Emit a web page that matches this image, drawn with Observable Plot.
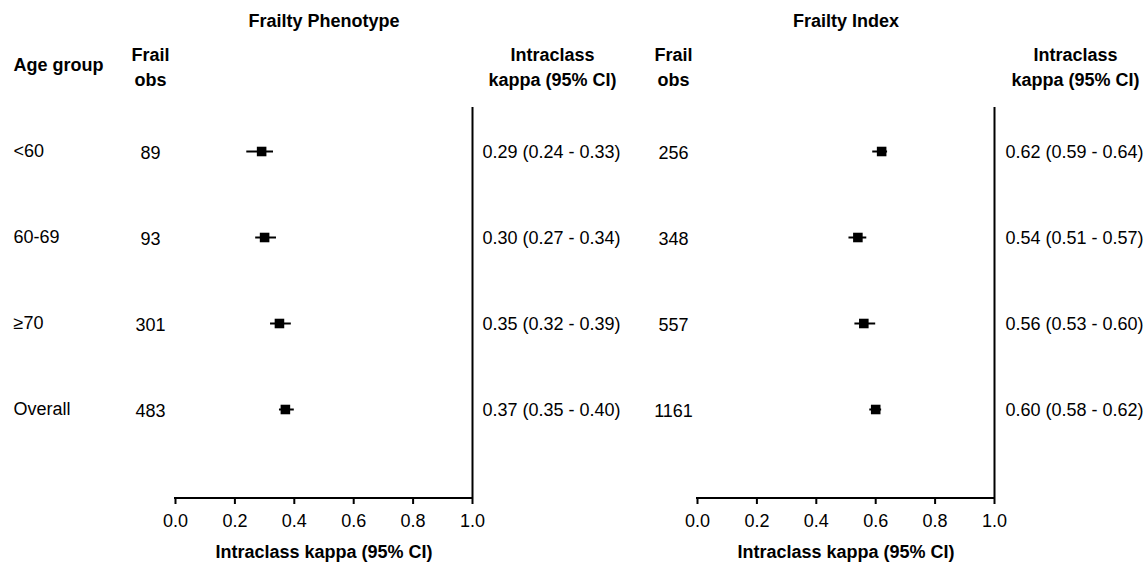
<!DOCTYPE html>
<html>
<head>
<meta charset="utf-8">
<script src="https://cdn.jsdelivr.net/npm/d3@7"></script>
<script src="https://cdn.jsdelivr.net/npm/@observablehq/plot@0.6"></script>
<style>
  html, body { margin: 0; padding: 0; background: #fff; }
  #chart { display: flex; width: 1145px; height: 562px; }
  #chart svg { overflow: visible; }
</style>
</head>
<body>
<div id="chart"></div>
<script>
// ---- data ----
const ageGroups = ["<60", "60-69", "≥70", "Overall"];
const panels = ["Frailty Phenotype", "Frailty Index"];

const fpFrailObs = [89, 93, 301, 483];
const fpKappa = [0.29, 0.30, 0.35, 0.37];
const fpLower = [0.24, 0.27, 0.32, 0.35];
const fpUpper = [0.33, 0.34, 0.39, 0.40];

const fiFrailObs = [256, 348, 557, 1161];
const fiKappa = [0.62, 0.54, 0.56, 0.60];
const fiLower = [0.59, 0.51, 0.53, 0.58];
const fiUpper = [0.64, 0.57, 0.60, 0.62];

const xTicks = [0, 0.2, 0.4, 0.6, 0.8, 1.0];
const axisTitle = "Intraclass kappa (95% CI)";
const headAge = "Age group";
const headObs = "Frail\nobs";
const headKappa = "Intraclass\nkappa (95% CI)";

const fmt = d3.format(".2f");
function rows(obs, k, lo, hi) {
  return ageGroups.map((g, i) => ({
    group: g, obs: obs[i], k: k[i], lo: lo[i], hi: hi[i],
    label: `${fmt(k[i])} (${fmt(lo[i])} - ${fmt(hi[i])})`
  }));
}

const FONT = "'Liberation Sans', Arial, Helvetica, sans-serif";
const FS = 18;

function bottomLine(index, scales, values, dims) {
  const {width, height, marginLeft, marginRight, marginBottom} = dims;
  const y = height - marginBottom;
  return d3.create("svg:line")
    .attr("x1", marginLeft - 1).attr("x2", width - marginRight + 1)
    .attr("y1", y).attr("y2", y)
    .attr("stroke", "black").attr("stroke-width", 2).node();
}

function panel(title, data, opts) {
  const {width, marginLeft, marginRight, showAge, obsDx, kappaDx, headKappaDx} = opts;
  const marks = [
    Plot.ruleX([1], {stroke: "black", strokeWidth: 2}),
    bottomLine,
    Plot.axisX({ticks: xTicks, tickFormat: ".1f", tickSize: 6, tickPadding: 10, strokeWidth: 2, fill: "black", fontSize: FS}),
    Plot.ruleY(data, {y: "group", x1: "lo", x2: "hi", stroke: "black", strokeWidth: 2}),
    Plot.dot(data, {y: "group", x: "k", symbol: "square", r: 5.4, fill: "black", stroke: null}),
    // columns
    Plot.text(data, {y: "group", text: d => String(d.obs), frameAnchor: "left", dx: obsDx, textAnchor: "middle", dy: 2}),
    Plot.text(data, {y: "group", text: "label", frameAnchor: "right", dx: kappaDx, textAnchor: "start", dy: 1}),
    // headers
    Plot.text([title], {frameAnchor: "top", dy: -86, lineAnchor: "middle", fontWeight: "bold"}),
    Plot.text([headObs], {frameAnchor: "top-left", dx: obsDx, dy: -42.5, lineAnchor: "middle", textAnchor: "middle", lineHeight: 1.39, fontWeight: "bold"}),
    Plot.text([headKappa], {frameAnchor: "top-right", dx: headKappaDx, dy: -42.5, lineAnchor: "middle", textAnchor: "middle", lineHeight: 1.39, fontWeight: "bold"}),
    Plot.text([axisTitle], {frameAnchor: "bottom", dy: 54, lineAnchor: "middle", fontWeight: "bold"})
  ];
  if (showAge) {
    marks.push(Plot.text(data, {y: "group", text: "group", frameAnchor: "left", dx: -162, textAnchor: "start", dy: 0}));
    marks.push(Plot.text([headAge], {frameAnchor: "top-left", dx: -162, dy: -42, lineAnchor: "middle", textAnchor: "start", fontWeight: "bold"}));
  }
  return Plot.plot({
    width, height: 562,
    marginTop: 107, marginBottom: 64, marginLeft, marginRight,
    style: {fontSize: FS + "px", fontFamily: FONT, color: "black", background: "white", overflow: "visible"},
    x: {domain: [0, 1], axis: null},
    y: {type: "point", domain: ageGroups, padding: 0.75, align: 1 / 3, axis: null},
    marks
  });
}

const chart = document.getElementById("chart");
chart.append(panel(panels[0], rows(fpFrailObs, fpKappa, fpLower, fpUpper), {
  width: 640, marginLeft: 175, marginRight: 168, showAge: true, obsDx: -25, kappaDx: 10, headKappaDx: 80
}));
chart.append(panel(panels[1], rows(fiFrailObs, fiKappa, fiLower, fiUpper), {
  width: 505, marginLeft: 57, marginRight: 151, showAge: false, obsDx: -24, kappaDx: 11, headKappaDx: 81
}));
</script>
</body>
</html>
